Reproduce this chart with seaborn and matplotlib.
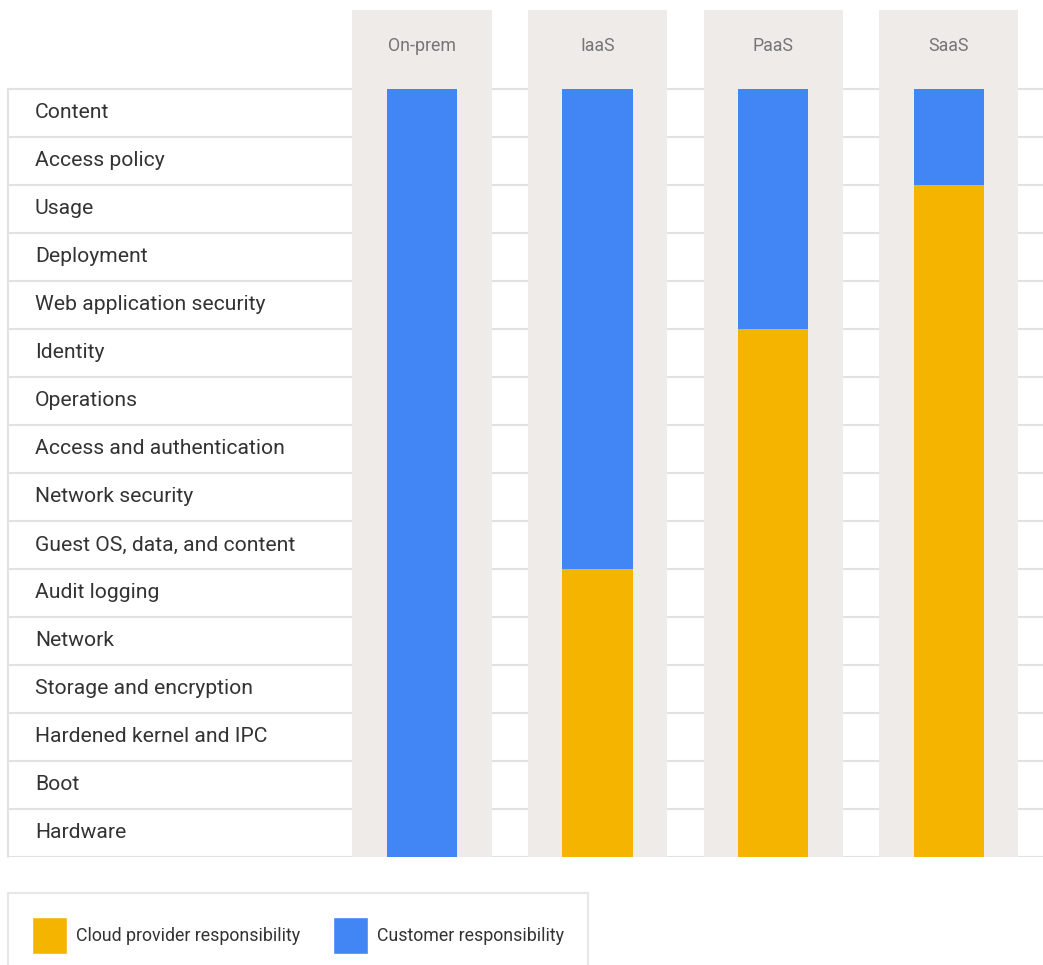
import pandas as pd
import matplotlib.pyplot as plt
import matplotlib.transforms as mtransforms
from matplotlib.patches import Patch
import seaborn as sns

# Data
models = ["On-prem", "IaaS", "PaaS", "SaaS"]
layers = ["Content", "Access policy", "Usage", "Deployment", "Web application security",
          "Identity", "Operations", "Access and authentication", "Network security",
          "Guest OS, data, and content", "Audit logging", "Network", "Storage and encryption",
          "Hardened kernel and IPC", "Boot", "Hardware"]
customer_layers = [16, 10, 5, 2]
provider_layers = [0, 6, 11, 14]

blue = "#4285F4"
yellow = "#F4B400"
panel = "#EEEBE8"
grid = "#E2E2E2"

df = pd.DataFrame({"model": models, "customer": customer_layers, "provider": provider_layers})
df["total"] = df["customer"] + df["provider"]
n = len(layers)

sns.set_theme(style="white")
plt.rcParams["font.family"] = ["Roboto", "DejaVu Sans"]

W, H = 1043, 965
fig = plt.figure(figsize=(W / 100, H / 100), dpi=100)
# axes covers from y=10px to y=857px, full width
ax = fig.add_axes([0, (H - 857) / H, 1, 847 / H])
row_px = 48
col_px = 175.6

# row separators (behind column panels)
x0 = 8 / W
for k in range(n + 1):
    ax.axhline(k, xmin=x0, xmax=1, color=grid, lw=1.5, zorder=0)
trans = mtransforms.blended_transform_factory(ax.transAxes, ax.transData)
ax.plot([x0, x0], [0, n], transform=trans, color=grid, lw=1.5, zorder=0, clip_on=False)

# grey column panels
for i in range(len(models)):
    ax.axvspan(i - 0.396, i + 0.396, color=panel, lw=0, zorder=0.5)

# stacked bars
sns.barplot(data=df, x="model", y="total", color=blue, width=0.4, saturation=1,
            ax=ax, zorder=2, linewidth=0)
sns.barplot(data=df, x="model", y="provider", color=yellow, width=0.4, saturation=1,
            ax=ax, zorder=3, linewidth=0)
ax.set_xlim(-422 / col_px, (W - 422) / col_px)
ax.set_ylim(0, 847 / row_px)

# row labels
for k, name in enumerate(layers):
    ax.text(35 / W, n - k - 0.5, name, transform=trans, ha="left", va="center",
            fontsize=15.2, color="#333333")

# column headers
for i, m in enumerate(models):
    ax.text(i, n + 0.896, m, ha="center", va="center", fontsize=12.8, color="#757575")

ax.set_axis_off()

handles = [Patch(facecolor=yellow, label="Cloud provider responsibility"),
           Patch(facecolor=blue, label="Customer responsibility")]
leg = fig.legend(handles=handles, loc="upper left", bbox_to_anchor=(8 / W, 1 - 893 / H),
                 borderaxespad=0, ncol=2, fontsize=12.8, frameon=True, fancybox=False,
                 handlelength=1.97, handleheight=2.85, handletextpad=0.5, columnspacing=1.85,
                 borderpad=1.35, labelcolor="#333333")
leg.get_frame().set_edgecolor(grid)
leg.get_frame().set_linewidth(1.5)

fig.savefig("out.png", dpi=100)
